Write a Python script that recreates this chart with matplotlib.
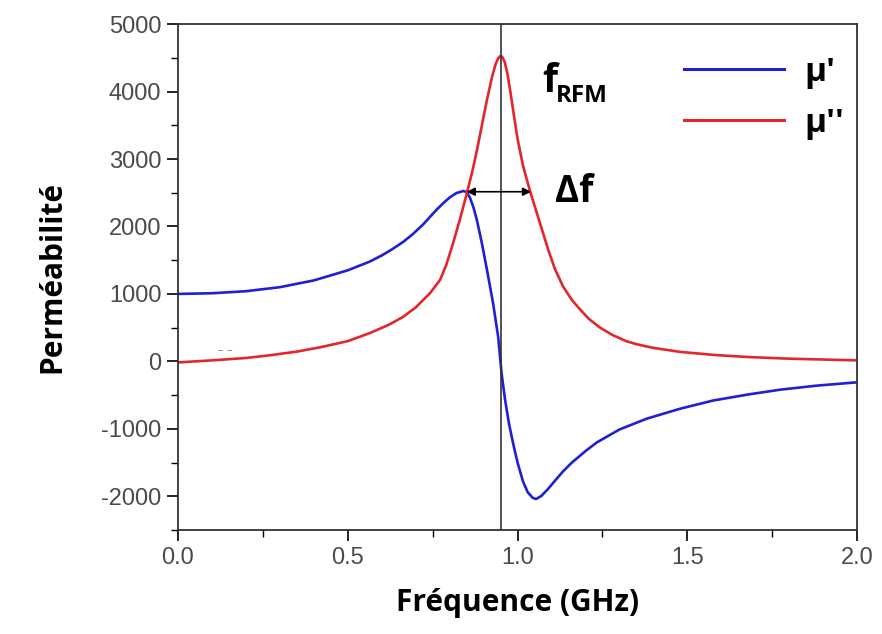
import matplotlib
matplotlib.use("Agg")
import matplotlib.pyplot as plt
from matplotlib.lines import Line2D
from matplotlib.ticker import MultipleLocator

# --- data ---
freq_mu1 = [0.0, 0.1, 0.2, 0.3, 0.4, 0.5, 0.565, 0.6, 0.63, 0.663, 0.69, 0.72, 0.74,
            0.76, 0.78, 0.8, 0.82, 0.84, 0.85, 0.86, 0.87, 0.88, 0.895, 0.91, 0.928,
            0.943, 0.953, 0.963, 0.975, 0.988, 1.0, 1.016, 1.03, 1.045, 1.055, 1.07,
            1.09, 1.11, 1.134, 1.16, 1.2, 1.234, 1.3, 1.38, 1.48, 1.576, 1.68, 1.773,
            1.88, 2.0]
mu1 = [1000, 1010, 1040, 1100, 1200, 1350, 1480, 1570, 1660, 1770, 1880, 2020, 2130,
       2240, 2340, 2430, 2495, 2525, 2512, 2425, 2285, 2100, 1750, 1355, 860,
       360, -180, -560, -930, -1240, -1500, -1780, -1940, -2025, -2040, -1995,
       -1890, -1770, -1630, -1500, -1330, -1200, -1010, -850, -700, -580, -490, -420,
       -360, -310]

freq_mu2 = [0.0, 0.1, 0.2, 0.27, 0.35, 0.42, 0.5, 0.565, 0.62, 0.663, 0.7, 0.742,
            0.772, 0.79, 0.81, 0.83, 0.85, 0.866, 0.88, 0.895, 0.91, 0.925, 0.935,
            0.943, 0.95, 0.956, 0.962, 0.97, 0.98, 0.99, 1.0, 1.016, 1.037, 1.066,
            1.09, 1.11, 1.134, 1.16, 1.184, 1.21, 1.243, 1.28, 1.32, 1.35, 1.4,
            1.48, 1.58, 1.676, 1.8, 2.0]
mu2 = [-15, 15, 50, 90, 145, 210, 300, 420, 540, 660, 800, 1010,
       1210, 1430, 1750, 2100, 2480, 2800, 3120, 3500, 3880, 4220, 4400,
       4495, 4530, 4505, 4440, 4270, 3960, 3620, 3300, 2900, 2520, 2050,
       1660, 1370, 1110, 910, 770, 630, 500, 390, 300, 255, 200,
       140, 95, 65, 40, 15]

f_res = 0.95
df_start, df_end, df_level = 0.85, 1.04, 2515

xticks = [0.0, 0.5, 1.0, 1.5, 2.0]
yticks = [-2000, -1000, 0, 1000, 2000, 3000, 4000, 5000]

series_labels = ["\u03bc'", "\u03bc''"]
x_label = "Fréquence (GHz)"
y_label = "Perméabilité"

BLUE = "#1f1fd6"
RED = "#e2262b"
bold_fam = ["Open Sans", "DejaVu Sans"]

fig = plt.figure(figsize=(8.82, 6.34), dpi=100)
ax = fig.add_axes([0.2018, 0.164, 0.770, 0.798])

ax.plot(freq_mu1, mu1, color=BLUE, lw=1.9, solid_capstyle="round", solid_joinstyle="round")
ax.plot(freq_mu2, mu2, color=RED, lw=1.9, solid_capstyle="round", solid_joinstyle="round")
ax.axvline(f_res, color="#333333", lw=1.2)

ax.annotate("", xy=(df_start, df_level), xytext=(df_end, df_level),
            arrowprops=dict(arrowstyle="<|-|>", color="black", lw=1.2,
                            mutation_scale=12, shrinkA=0, shrinkB=0))

ax.set_xlim(0, 2.0)
ax.set_ylim(-2500, 5000)
ax.set_xticks(xticks)
ax.set_xticklabels([f"{v:.1f}" for v in xticks])
ax.set_yticks(yticks)
ax.set_yticklabels([str(v) for v in yticks])
ax.xaxis.set_minor_locator(MultipleLocator(0.25))
ax.yaxis.set_minor_locator(MultipleLocator(500))
ax.tick_params(which="major", direction="out", length=8, width=1.2,
               labelsize=17, labelcolor="#4a4a4a", pad=4)
ax.tick_params(which="minor", direction="out", length=5, width=1.0)
for lab in ax.get_xticklabels() + ax.get_yticklabels():
    lab.set_family(["Liberation Sans", "DejaVu Sans"])
for sp in ax.spines.values():
    sp.set_linewidth(1.3)
    sp.set_color("#333333")

ax.set_xlabel(x_label, fontsize=21.5, fontweight="bold", family=bold_fam, labelpad=14)
ax.set_ylabel(y_label, fontsize=21.5, fontweight="bold", family=bold_fam, labelpad=24)

# annotations
ax.text(0.537, 0.866, "f", transform=ax.transAxes, fontsize=28, fontweight="bold",
        family=bold_fam, va="baseline")
ax.text(0.557, 0.846, "RFM", transform=ax.transAxes, fontsize=17.5, fontweight="bold",
        family=bold_fam, va="baseline")
ax.text(1.11, 2366, "\u0394f", fontsize=26.5, fontweight="bold",
        family=bold_fam, va="baseline")
ax.text(0.07, 0.356, "– –", transform=ax.transAxes, fontsize=8,
        color="#777777", va="center", ha="center")

handles = [Line2D([], [], color=BLUE, lw=2.2), Line2D([], [], color=RED, lw=2.2)]
leg = ax.legend(handles, series_labels, loc="upper right", bbox_to_anchor=(1.025, 0.997),
                frameon=False, handlelength=3.0, handletextpad=0.6,
                labelspacing=0.55, prop=dict(family=bold_fam, weight="bold", size=24))

fig.savefig("out.png", dpi=100, facecolor="white")
